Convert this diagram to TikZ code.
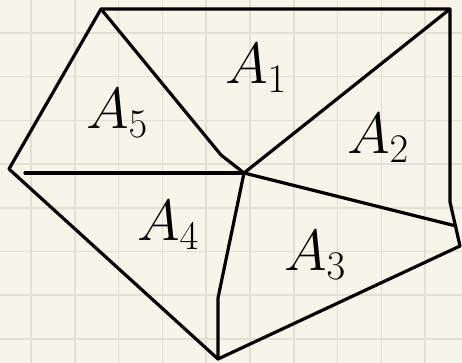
\RequirePackage{fix-cm}
\documentclass[tikz,border=0pt]{standalone}
\usepackage{xcolor}
\usepackage{tikz}
\definecolor{papercolor}{HTML}{F7F5EA}
\definecolor{gridcolor}{HTML}{E2E0D2}

\begin{document}
\begin{tikzpicture}[x=1pt, y=-1pt,
    gridline/.style={line width=1.6pt, gridcolor},
    edge/.style={line width=3.2pt, black, line cap=round, line join=round},
    arealabel/.style={font=\fontsize{58}{62}\selectfont, inner sep=0pt}]
    % Paper and grid
    \fill[papercolor] (0,0) rectangle (462,363);
    \useasboundingbox (0,0) rectangle (462,363);
    \foreach \gx in {0,...,9}
        \draw[gridline] ({31+43.8*\gx},0) -- ({31+43.8*\gx},363);
    \foreach \gy in {0,...,7}
        \draw[gridline] (0,{33+43.7*\gy}) -- (462,{33+43.7*\gy});

    % Outer vertices
    \coordinate (T1) at (101,9);     % top left
    \coordinate (T2) at (450,9);     % top right
    \coordinate (R1) at (450,202);   % right bend
    \coordinate (R2) at (460,246);   % right corner
    \coordinate (B) at (218,359);    % bottom
    \coordinate (L) at (9,169);      % left corner

    % Inner points
    \coordinate (C) at (244,173);    % centre
    \coordinate (K) at (221,155);    % kink towards centre
    \coordinate (P) at (456,226);    % on right edge
    \coordinate (M) at (218,298);    % bend above bottom
    \coordinate (H) at (25,173);     % start of horizontal cut

    % Outline
    \draw[edge] (T1) -- (T2) -- (R1) -- (R2) -- (B) -- (L) -- cycle;

    % Cuts from the centre
    \draw[edge] (T1) -- (K) -- (C);
    \draw[edge] (T2) -- (C);
    \draw[edge] (C) -- (P);
    \draw[edge] (C) -- (M) -- (B);
    \draw[edge] (H) -- (C);

    % Area labels
    \node[arealabel] (a1) at (256,68) {$A_1$};
    \node[arealabel] (a2) at (378,138) {$A_2$};
    \node[arealabel] (a3) at (315,255) {$A_3$};
    \node[arealabel] (a4) at (168,225) {$A_4$};
    \node[arealabel] (a5) at (117,113) {$A_5$};
\end{tikzpicture}
\end{document}
